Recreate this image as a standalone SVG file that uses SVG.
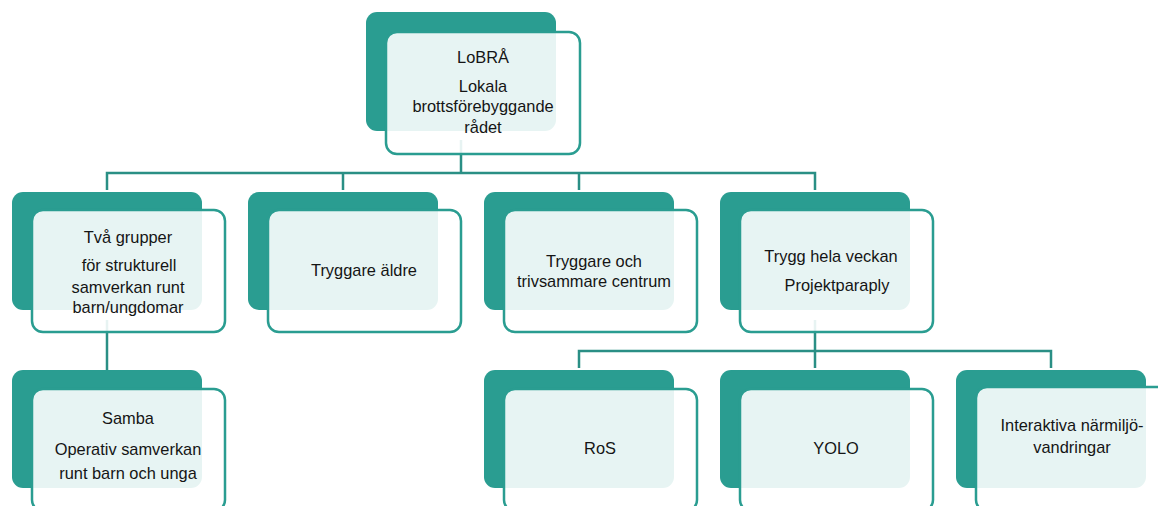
<svg xmlns="http://www.w3.org/2000/svg" width="1158" height="506" viewBox="0 0 1158 506">
<style>
.back{fill:#2a9d91;}
.front{fill:#ffffff;fill-opacity:0.89;stroke:#2a9d91;stroke-width:2.5;}
.conn{fill:none;stroke:#2a8f85;stroke-width:2.5;}
text{font-family:"Liberation Sans",Arial,sans-serif;font-size:16.4px;fill:#151515;text-anchor:middle;}
</style>
<rect width="1158" height="506" fill="#ffffff"/>
<g id="connectors">
<path class="conn" d="M461,140 V173 M107,190 V173 H815 V190 M343,173 V190 M579,173 V190"/>
<path class="conn" d="M107,320 V370"/>
<path class="conn" d="M815,320 V351 M579,368 V351 H1051 V368 M815,351 V368"/>
</g>
<g id="n-lobra">
<rect class="back" x="366" y="12" width="190" height="119" rx="11"/>
<rect class="front" x="386" y="32" width="194" height="122" rx="11"/>
<text x="483" y="63">LoBRÅ</text>
<text x="483" y="92">Lokala</text>
<text x="483" y="112">brottsförebyggande</text>
<text x="483" y="133">rådet</text>
</g>
<g id="n-tva">
<rect class="back" x="12" y="192" width="190" height="118" rx="11"/>
<rect class="front" x="32" y="210" width="193" height="122" rx="11"/>
<text x="128" y="243">Två grupper</text>
<text x="129" y="271">för strukturell</text>
<text x="128" y="293">samverkan runt</text>
<text x="128" y="313">barn/ungdomar</text>
</g>
<g id="n-aldre">
<rect class="back" x="248" y="192" width="190" height="118" rx="11"/>
<rect class="front" x="268" y="210" width="193" height="122" rx="11"/>
<text x="364" y="276">Tryggare äldre</text>
</g>
<g id="n-centrum">
<rect class="back" x="484" y="192" width="190" height="118" rx="11"/>
<rect class="front" x="504" y="210" width="193" height="122" rx="11"/>
<text x="594" y="267">Tryggare och</text>
<text x="594" y="287">trivsammare centrum</text>
</g>
<g id="n-trygg">
<rect class="back" x="720" y="192" width="190" height="118" rx="11"/>
<rect class="front" x="740" y="210" width="193" height="122" rx="11"/>
<text x="831" y="262">Trygg hela veckan</text>
<text x="837" y="291">Projektparaply</text>
</g>
<g id="n-samba">
<rect class="back" x="12" y="370" width="190" height="118" rx="11"/>
<rect class="front" x="32" y="389" width="193" height="122" rx="11"/>
<text x="128" y="424">Samba</text>
<text x="128" y="455">Operativ samverkan</text>
<text x="128" y="479">runt barn och unga</text>
</g>
<g id="n-ros">
<rect class="back" x="484" y="370" width="190" height="118" rx="11"/>
<rect class="front" x="504" y="389" width="193" height="122" rx="11"/>
<text x="600" y="454">RoS</text>
</g>
<g id="n-yolo">
<rect class="back" x="720" y="370" width="190" height="118" rx="11"/>
<rect class="front" x="740" y="389" width="193" height="122" rx="11"/>
<text x="836" y="454">YOLO</text>
</g>
<g id="n-interaktiva">
<rect class="back" x="956" y="370" width="190" height="118" rx="11"/>
<rect class="front" x="976" y="387" width="193" height="124" rx="11"/>
<text x="1072" y="431">Interaktiva närmiljö-</text>
<text x="1072" y="453">vandringar</text>
</g>
</svg>
